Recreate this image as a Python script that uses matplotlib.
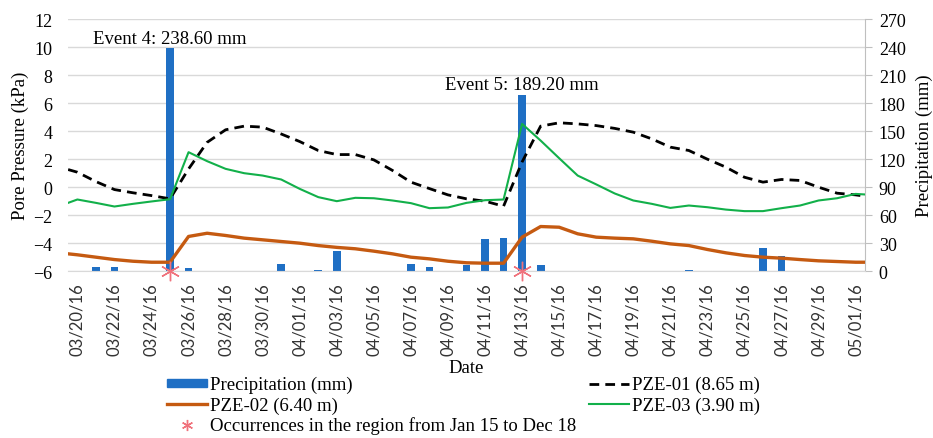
import numpy as np
import pandas as pd
import matplotlib
matplotlib.use("Agg")
import matplotlib.pyplot as plt
from matplotlib.lines import Line2D
from matplotlib.patches import Patch

# daily categories 03/20/16 .. 05/01/16
dates = pd.date_range("2016-03-20", "2016-05-01", freq="D")
date_labels = [d.strftime("%m/%d/%y") for d in dates]

# precipitation (mm) per day
precip = [0, 5, 4, 0, 0, 238.6, 3, 0, 0, 0, 0, 7.5, 0, 1, 22,
          0, 0, 0, 7.5, 4, 0, 7, 35, 36, 189.2, 6.5, 0, 0, 0, 0,
          0, 0, 0, 1, 0, 0, 0, 25, 16.5, 0, 0, 0, 0]

# pore pressure (kPa); first/last values sit at the half-day edges
line_days = np.r_[-0.5, np.arange(43), 42.5]
pze01 = [1.26, 1.07, 0.4, -0.17, -0.4, -0.6, -0.83, 1.3, 3.2, 4.1, 4.36,
         4.29, 3.8, 3.26, 2.62, 2.33, 2.33, 1.95, 1.2, 0.36, -0.1, -0.55,
         -0.83, -1.0, -1.36, 1.8, 4.36, 4.6, 4.52, 4.4, 4.2, 3.93, 3.45,
         2.86, 2.62, 2.0, 1.43, 0.71, 0.36, 0.55, 0.48, 0.0, -0.43, -0.55,
         -0.64]
pze02 = [-4.76, -4.83, -5.0, -5.17, -5.29, -5.36, -5.36, -3.52, -3.29,
         -3.45, -3.64, -3.76, -3.88, -4.0, -4.17, -4.3, -4.4, -4.57, -4.76,
         -5.0, -5.12, -5.29, -5.4, -5.43, -5.43, -3.57, -2.81, -2.86, -3.33,
         -3.57, -3.64, -3.69, -3.86, -4.05, -4.17, -4.45, -4.69, -4.88,
         -5.0, -5.07, -5.17, -5.26, -5.31, -5.36, -5.36]
pze03 = [-1.12, -0.88, -1.12, -1.38, -1.19, -1.02, -0.86, 2.5, 1.86, 1.31,
         1.0, 0.83, 0.55, -0.12, -0.71, -1.0, -0.76, -0.79, -0.95, -1.14,
         -1.5, -1.45, -1.12, -0.93, -0.88, 4.52, 3.33, 2.07, 0.83, 0.2,
         -0.45, -0.95, -1.19, -1.48, -1.31, -1.43, -1.6, -1.71, -1.71, -1.5,
         -1.31, -0.95, -0.79, -0.48, -0.52]

events = [5, 24]  # day index of Event 4 and Event 5
event_labels = ["Event 4: 238.60 mm", "Event 5: 189.20 mm"]

SERIF = "Liberation Serif"
BLUE = "#1f6fc4"
ORANGE = "#c55a11"
GREEN = "#12b04a"
STAR = "#f0727c"
GRID = "#d9d9d9"
DASH = (0, (3.5, 2.2))

fig = plt.figure(figsize=(9.33, 4.39), dpi=100)
ax = fig.add_axes([0.073, 0.380, 0.854, 0.574])
ax2 = ax.twinx()
ax.set_zorder(ax2.get_zorder() + 1)
ax.patch.set_visible(False)

x = np.arange(len(dates))

# bars on the precipitation axis
ax2.bar(x, precip, width=0.42, color=BLUE, zorder=2)
ax2.set_ylim(0, 270)
ax2.set_yticks(np.arange(0, 271, 30))
ax2.grid(axis="y", color=GRID, linewidth=1.0, zorder=0)
ax2.set_axisbelow(True)
for d, lab in zip(events, event_labels):
    ax2.annotate(lab, (d, precip[d]), xytext=(0, 1), textcoords="offset points",
                 ha="center", va="bottom", fontsize=13.5, family=SERIF)

# pore pressure lines
ax.plot(line_days, pze01, color="black", lw=2.0, ls=DASH)
ax.plot(line_days, pze02, color=ORANGE, lw=2.4)
ax.plot(line_days, pze03, color=GREEN, lw=1.5)
ax.plot(events, [-6] * len(events), ls="none", marker=(6, 2, 0), ms=14,
        mec=STAR, mew=1.0, clip_on=False, zorder=5)

ax.set_xlim(-0.5, len(dates) - 0.5)
ax.set_ylim(-6, 12)
ax.set_yticks(np.arange(-6, 13, 2))
ax.set_xticks(x[::2])
ax.set_xticklabels(date_labels[::2], rotation=90, fontsize=12, family="Lato")

for a in (ax, ax2):
    for s in ("top", "left"):
        a.spines[s].set_visible(False)
    a.spines["bottom"].set_color(GRID)
    a.spines["right"].set_color("#bfbfbf")
ax.spines["right"].set_visible(False)
ax2.spines["bottom"].set_visible(False)

ax.tick_params(axis="x", length=0, pad=8, colors="#333333")
ax.tick_params(axis="y", length=0, pad=11.5, labelsize=13)
ax2.tick_params(axis="y", length=5, color="#bfbfbf", pad=5, labelsize=13)
for lab in ax.get_yticklabels() + ax2.get_yticklabels():
    lab.set_family(SERIF)

ax.set_ylabel("Pore Pressure (kPa)", fontsize=13.5, family=SERIF, labelpad=3)
ax2.set_ylabel("Precipitation (mm)", fontsize=13.5, family=SERIF, labelpad=7)
ax.set_xlabel("Date", fontsize=13.5, family=SERIF, labelpad=3)

handles = [
    Patch(color=BLUE),
    Line2D([], [], color=ORANGE, lw=2.4),
    Line2D([], [], ls="none", marker=(6, 2, 0), ms=8, mec=STAR, mew=1.0),
    Line2D([], [], color="black", lw=2.0, ls=DASH),
    Line2D([], [], color=GREEN, lw=1.5),
]
labels = ["Precipitation (mm)", "PZE-02 (6.40 m)",
          "Occurrences in the region from Jan 15 to Dec 18",
          "PZE-01 (8.65 m)", "PZE-03 (3.90 m)"]
fig.legend(handles, labels, ncol=2, loc="upper left",
           bbox_to_anchor=(0.179, 0.141), bbox_transform=fig.transFigure,
           frameon=False, prop={"family": SERIF, "size": 13.5},
           handlelength=2.13, handleheight=0.28, handletextpad=0.16,
           columnspacing=0.7, labelspacing=0.15, borderpad=0, borderaxespad=0)

fig.savefig("out.png", dpi=100)
